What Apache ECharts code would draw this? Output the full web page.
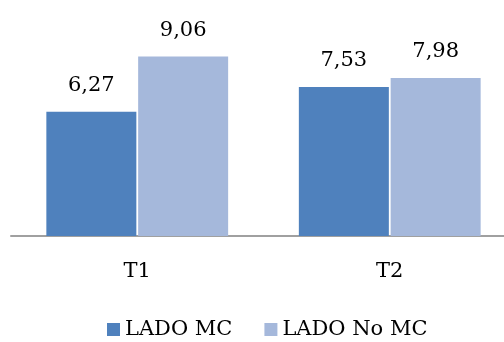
<!DOCTYPE html>
<html>
<head>
<meta charset="utf-8">
<script src="https://cdn.jsdelivr.net/npm/echarts@6/dist/echarts.min.js"></script>
<style>
  html, body { margin: 0; padding: 0; background: #fff; }
  #chart { width: 504px; height: 342px; }
</style>
</head>
<body>
<div id="chart"></div>
<script>
// Categories and series values
const categories = ['T1', 'T2'];
const seriesNames = ['LADO MC', 'LADO No MC'];
const ladoMC = [6.27, 7.53];
const ladoNoMC = [9.06, 7.98];

const FONT = '"DejaVu Serif", "Liberation Serif", serif';
const colors = ['#4F81BD', '#A5B8DB'];

// Decimal comma for the value labels
const fmt = p => String(p.value.toFixed(2)).replace('.', ',');

const chart = echarts.init(document.getElementById('chart'));
chart.setOption({
  animation: false,
  backgroundColor: '#ffffff',
  grid: { left: 11, top: 38, width: 505, height: 198,
          containLabel: false, outerBoundsMode: 'none' },
  legend: {
    data: seriesNames,
    left: 107,
    top: 319,
    padding: 0,
    itemWidth: 13,
    itemHeight: 13,
    itemGap: 32,
    icon: 'rect',
    textStyle: { fontFamily: FONT, fontSize: 21, color: '#000' }
  },
  xAxis: {
    type: 'category',
    data: categories,
    axisLine: { show: true, lineStyle: { color: '#A0A0A0', width: 2 } },
    axisTick: { show: false },
    axisLabel: { margin: 25, fontFamily: FONT, fontSize: 21, color: '#000' }
  },
  yAxis: {
    type: 'value',
    min: 0,
    max: 10,
    show: false,
    splitLine: { show: false }
  },
  series: [
    {
      name: seriesNames[0],
      type: 'bar',
      data: ladoMC,
      barWidth: 90,
      barGap: '2%',
      itemStyle: { color: colors[0] },
      label: { show: true, position: 'top', distance: 16, formatter: fmt,
               fontFamily: FONT, fontSize: 21, color: '#000' }
    },
    {
      name: seriesNames[1],
      type: 'bar',
      data: ladoNoMC,
      barWidth: 90,
      barGap: '2%',
      itemStyle: { color: colors[1] },
      label: { show: true, position: 'top', distance: 16, formatter: fmt,
               fontFamily: FONT, fontSize: 21, color: '#000' }
    }
  ]
});
</script>
</body>
</html>
